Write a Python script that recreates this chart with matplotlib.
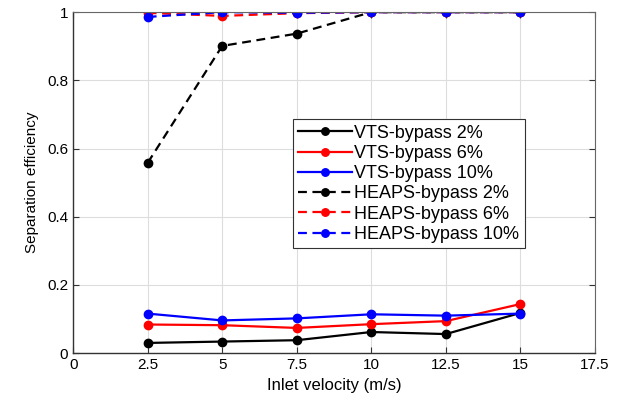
import matplotlib
matplotlib.use("Agg")
import matplotlib.pyplot as plt

plt.rcParams['font.family'] = ['Liberation Sans', 'DejaVu Sans']

velocity = [2.5, 5, 7.5, 10, 12.5, 15]

vts_2 = [0.030, 0.034, 0.038, 0.062, 0.056, 0.118]
vts_6 = [0.084, 0.082, 0.074, 0.085, 0.094, 0.144]
vts_10 = [0.116, 0.096, 0.102, 0.114, 0.110, 0.116]
heaps_2 = [0.558, 0.901, 0.937, 1.0, 1.0, 1.0]
heaps_6 = [0.998, 0.989, 0.997, 1.0, 1.0, 1.0]
heaps_10 = [0.986, 1.0, 0.998, 1.0, 1.0, 1.0]

x_ticks = [0, 2.5, 5, 7.5, 10, 12.5, 15, 17.5]
x_tick_labels = ["0", "2.5", "5", "7.5", "10", "12.5", "15", "17.5"]
y_ticks = [0, 0.2, 0.4, 0.6, 0.8, 1]
y_tick_labels = ["0", "0.2", "0.4", "0.6", "0.8", "1"]

fig = plt.figure(figsize=(6.25, 4.05), dpi=100)
ax = fig.add_axes([0.117, 0.128, 0.835, 0.842])

lw = 1.6
ms = 6
dash = (4, 2.5)
ax.plot(velocity, vts_2, '-', color='black', marker='o', lw=lw, ms=ms, label='VTS-bypass 2%')
ax.plot(velocity, vts_6, '-', color='red', marker='o', lw=lw, ms=ms, label='VTS-bypass 6%')
ax.plot(velocity, vts_10, '-', color='blue', marker='o', lw=lw, ms=ms, label='VTS-bypass 10%')
ax.plot(velocity, heaps_2, '--', dashes=dash, color='black', marker='o', lw=lw, ms=ms, label='HEAPS-bypass 2%')
ax.plot(velocity, heaps_6, '--', dashes=dash, color='red', marker='o', lw=lw, ms=ms, label='HEAPS-bypass 6%')
ax.plot(velocity, heaps_10, '--', dashes=dash, color='blue', marker='o', lw=lw, ms=ms, label='HEAPS-bypass 10%')

ax.set_xlim(0, 17.5)
ax.set_ylim(0, 1)
ax.set_xticks(x_ticks)
ax.set_xticklabels(x_tick_labels)
ax.set_yticks(y_ticks)
ax.set_yticklabels(y_tick_labels)
ax.tick_params(direction='in', top=True, right=True, labelsize=11, length=4, color='#333333')
ax.grid(True, color='#dddddd', linewidth=0.8)
ax.set_axisbelow(True)
for side in ['top', 'right']:
    ax.spines[side].set_color('#666666')
for side in ['left', 'bottom']:
    ax.spines[side].set_color('#333333')
    ax.spines[side].set_linewidth(1.0)

ax.set_xlabel("Inlet velocity (m/s)", fontsize=12, labelpad=4)
ax.set_ylabel("Separation efficiency", fontsize=11, labelpad=6)

leg = ax.legend(loc='upper left', bbox_to_anchor=(0.421, 0.686), borderaxespad=0,
                fontsize=13, handlelength=3.0, handletextpad=0.1, labelspacing=0.18,
                fancybox=False, edgecolor='#333333', framealpha=1, borderpad=0.3,
                markerscale=0.9)
leg.get_frame().set_linewidth(0.8)

fig.savefig("out.png", dpi=100)
